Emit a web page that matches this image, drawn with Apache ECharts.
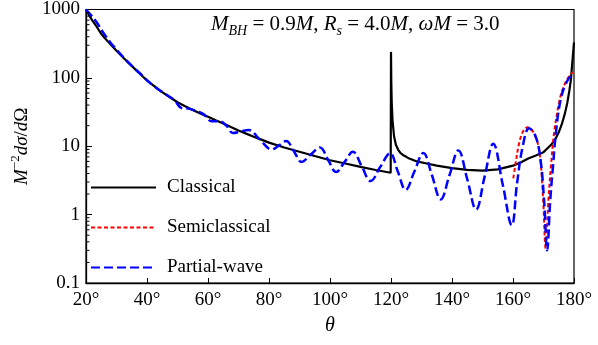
<!DOCTYPE html>
<html><head><meta charset="utf-8">
<script src="https://cdn.jsdelivr.net/npm/echarts@6/dist/echarts.min.js"></script>
<style>html,body{margin:0;padding:0;background:#fff}#c{width:598px;height:345px}</style>
</head><body><div id="c"></div>
<script>
// ---- data ----
const xTicks = [20, 40, 60, 80, 100, 120, 140, 160, 180];
const yTicks = [0.1, 1, 10, 100, 1000];
const yMinorTicks = [0.2,0.3,0.4,0.5,0.6,0.7,0.8,0.9, 2,3,4,5,6,7,8,9, 20,30,40,50,60,70,80,90, 200,300,400,500,600,700,800,900];
const seriesNames = ['Classical', 'Semiclassical', 'Partial-wave'];

const classical = [
  [20,1000],[21,830],[22,700],[23.5,560],[25,440],[26.2,380],[27.5,330],[28.7,288],[30,250],[31.2,220],[32.5,192],[33.7,170],[35,150],
  [36.2,132],[37.5,117],[38.7,104],[40,92],[41.2,83],[42.5,75],[43.7,68],[45,62],[47.5,52],[50,44],[52.5,38.5],[55,34],[57.5,30.2],[60,27],
  [62.5,24],[65,21.5],[67.5,19.1],[70,17],[72.5,15.3],[75,13.8],[77.5,12.5],[80,11.3],[85,9.6],[90,8.3],[95,7.2],[100,6.25],[105,5.6],
  [110,5.0],[115,4.5],[119.9,4.1],[120,240],[120.1,85],[120.25,42],[120.5,24],[121,14],[121.6,10.5],[122.4,8.8],[123.2,7.9],[124,7.4],
  [125,7.0],[126,6.6],[128.5,6.0],[131.7,5.6],[135,5.2],[140,4.8],[145,4.5],[150,4.4],[155,4.6],[160,5.2],[162.5,5.8],[165,6.6],
  [167.5,7.3],[170,8.2],[172.5,10.5],[174,13],[175,16],[176,21],[177,30],[177.8,43],[178.5,66],[179,95],[179.3,140],[179.6,200],[179.8,260],[180,330]
];

const semiclassical = [
  [160.1,3.4],[161,6.2],[162,11],[163.3,16.5],[164.8,19],[166.5,16.5],[168,11.5],[169,6.3],[169.9,1.6],[170.7,0.32],
  [171.6,1.6],[172.5,5.5],[173.5,16],[175.4,50],[177,82],[178.7,110],[179.6,121]
];

const partialWave = [
  [20,1000],[21.5,840],[23.5,650],[25.5,470],[28,330],[30.5,245],[33,185],[35.5,143],[38,113],[40.5,88],[43,72],[45.5,60],
  [49,47],[51.2,36.5],[53.5,35.5],[56,33],[58.5,29.5],[61.2,23.2],[63.8,23.2],[66,20],[68.2,15.6],[70.8,16.5],[73.3,17.3],
  [77,12.5],[80.9,9.0],[83.3,10.3],[85.6,11.9],[88.2,8.4],[90.7,5.9],[93.7,7.6],[96.7,9.6],[99.4,6.3],[102,4.2],[104.8,5.9],
  [107.5,8.3],[110.4,5.1],[113.3,3.1],[116.5,5.0],[119.7,7.9],[122.2,4.3],[124.8,2.3],[127.7,4.3],[130.6,8.0],[133.4,3.8],
  [136.3,1.67],[139.2,3.8],[142.1,8.7],[145,3.3],[147.9,1.19],[150.7,3.6],[153.5,10.9],[156.6,2.8],[159.6,0.70],[161.3,2.8],
  [163.2,10],[165.3,18.3],[167.4,14],[169,6.5],[170.2,1.6],[171.2,0.30],[172.2,1.6],[173.1,5],[174.2,18],[175.7,50],
  [177.3,82],[178.8,106],[179.6,116]
];

// ---- chart ----
const FONT = "'Liberation Serif', 'Times New Roman', serif";
const chart = echarts.init(document.getElementById('c'), null, {renderer: 'canvas'});

const option = {
  animation: false,
  backgroundColor: '#fff',
  grid: {left: 86, top: 9, right: 24, bottom: 62, show: true, borderColor: '#000', borderWidth: 1.2, backgroundColor: 'transparent'},
  title: {
    text: '{i|M}{sub|BH}{n| = 0.9}{i|M}{n|, }{i|R}{sub|s}{n| = 4.0}{i|M}{n|, }{i|ωM}{n| = 3.0}',
    left: 211, top: 10, padding: 0,
    textStyle: {
      fontFamily: FONT, fontSize: 21, fontWeight: 'normal', color: '#000',
      rich: {
        i: {fontFamily: FONT, fontSize: 21, fontStyle: 'italic', color: '#000', verticalAlign: 'middle'},
        n: {fontFamily: FONT, fontSize: 21, color: '#000', verticalAlign: 'middle'},
        sub: {fontFamily: FONT, fontSize: 14, fontStyle: 'italic', color: '#000', verticalAlign: 'bottom', padding: [14, 0, 0, 0]}
      }
    }
  },
  legend: {
    data: seriesNames,
    orient: 'vertical',
    left: 90, top: 178,
    padding: 0,
    itemWidth: 65, itemHeight: 14, itemGap: 21,
    itemStyle: {opacity: 0},
    textStyle: {fontFamily: FONT, fontSize: 19, color: '#000', padding: [0, 0, 0, 6]},
    selectedMode: false
  },
  xAxis: {
    type: 'value', min: 20, max: 180, interval: 20,
    axisLine: {show: true, lineStyle: {color: '#000', width: 1.3}},
    axisTick: {show: true, inside: true, length: 5, lineStyle: {color: '#000', width: 1}},
    splitLine: {show: false},
    axisLabel: {formatter: v => v + '°', fontFamily: FONT, fontSize: 19, color: '#000', margin: 8},
    name: 'θ', nameLocation: 'middle', nameGap: 33,
    nameTextStyle: {fontFamily: FONT, fontSize: 20, fontStyle: 'italic', color: '#000'}
  },
  yAxis: {
    type: 'log', logBase: 10, min: 0.1, max: 1000, splitNumber: 4,
    axisLine: {show: true, lineStyle: {color: '#000', width: 1.3}},
    axisTick: {show: true, inside: true, length: 6, lineStyle: {color: '#000', width: 1}},
    splitLine: {show: false},
    axisLabel: {
      formatter: v => String(+(+v).toPrecision(6)),
      fontFamily: FONT, fontSize: 19, color: '#000', margin: 6
    },
    name: '{i|M}{sup|−2}{i|dσ}{n|/}{i|d}{n|Ω}',
    nameLocation: 'middle', nameRotate: 90, nameGap: 48,
    nameTextStyle: {
      fontFamily: FONT, fontSize: 19, color: '#000',
      rich: {
        i: {fontFamily: FONT, fontSize: 19, fontStyle: 'italic', color: '#000', verticalAlign: 'middle'},
        n: {fontFamily: FONT, fontSize: 19, color: '#000', verticalAlign: 'middle'},
        sup: {fontFamily: FONT, fontSize: 13, color: '#000', verticalAlign: 'top', padding: [0, 0, 12, 0]}
      }
    }
  },
  series: [
    {
      name: 'Classical', type: 'line', data: classical, symbol: 'none', showSymbol: false, smooth: false,
      lineStyle: {color: '#000', width: 2.2}, itemStyle: {color: '#000'}, z: 2
    },
    {
      name: 'Semiclassical', type: 'line', data: semiclassical, symbol: 'none', showSymbol: false, smooth: 0.35,
      lineStyle: {color: '#ff0000', width: 2, type: [4, 2.5]}, itemStyle: {color: '#ff0000'}, z: 3
    },
    {
      name: 'Partial-wave', type: 'line', data: partialWave, symbol: 'none', showSymbol: false, smooth: 0.4,
      lineStyle: {color: '#0000ff', width: 2.5, type: [9, 4]}, itemStyle: {color: '#0000ff'}, z: 4
    },
    {
      type: 'custom', name: 'minorTicks', silent: true, clip: false, z: 10,
      data: yMinorTicks.map(v => [20, v]),
      renderItem: (params, api) => {
        const p = api.coord([api.value(0), api.value(1)]);
        return {type: 'line', shape: {x1: p[0], y1: p[1], x2: p[0] + 3.5, y2: p[1]}, style: {stroke: '#000', lineWidth: 1}};
      }
    }
  ]
};
chart.setOption(option);
</script>
</body></html>
